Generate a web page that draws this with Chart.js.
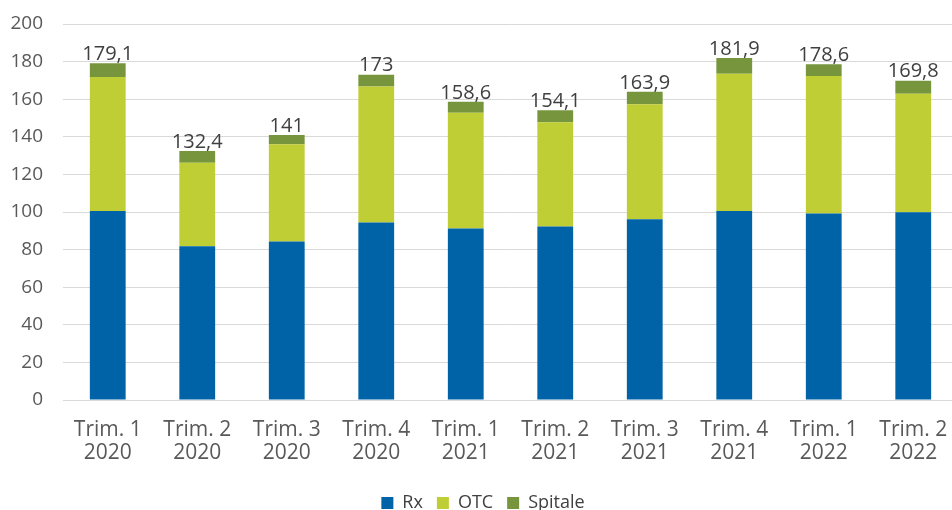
<!DOCTYPE html>
<html>
<head>
<meta charset="utf-8">
<script src="https://cdn.jsdelivr.net/npm/chart.js@4"></script>
<style>
  body { margin: 0; overflow: hidden; background: #fff; }
  #wrap { width: 960px; height: 510px; }
</style>
</head>
<body>
<div id="wrap"><canvas id="graph"></canvas></div>
<script>
var quarters = [
    ['Trim. 1', '2020'], ['Trim. 2', '2020'], ['Trim. 3', '2020'], ['Trim. 4', '2020'],
    ['Trim. 1', '2021'], ['Trim. 2', '2021'], ['Trim. 3', '2021'], ['Trim. 4', '2021'],
    ['Trim. 1', '2022'], ['Trim. 2', '2022']
];
var rx      = [100.5, 81.8, 84.3, 94.4, 91.2, 92.3, 96.2, 100.5, 99.2, 99.9];
var otc     = [71.3, 44.4, 51.8, 72.3, 61.6, 55.5, 61.1, 73.1, 73.2, 63.0];
var spitale = [7.3, 6.2, 4.9, 6.3, 5.8, 6.3, 6.6, 8.3, 6.2, 6.9];
var totals  = ['179,1', '132,4', '141', '173', '158,6', '154,1', '163,9', '181,9', '178,6', '169,8'];
var yTicks  = [0, 20, 40, 60, 80, 100, 120, 140, 160, 180, 200];

var font = '"Open Sans", "Noto Sans", sans-serif';

// total above each stack
var totalLabels = {
    id: 'totalLabels',
    afterDatasetsDraw: function (chart) {
        var ctx = chart.ctx;
        var meta = chart.getDatasetMeta(2);
        ctx.save();
        ctx.font = '20px ' + font;
        ctx.fillStyle = '#404040';
        ctx.textAlign = 'center';
        ctx.textBaseline = 'bottom';
        meta.data.forEach(function (bar, i) {
            ctx.fillText(totals[i], bar.x, bar.y + 1);
        });
        ctx.restore();
    }
};

var ctx = document.getElementById('graph');
var chart = new Chart(ctx, {
    type: 'bar',
    data: {
        labels: quarters,
        datasets: [
            { label: 'Rx', data: rx, backgroundColor: 'rgb(0,99,167)' },
            { label: 'OTC', data: otc, backgroundColor: 'rgb(191,206,52)' },
            { label: 'Spitale', data: spitale, backgroundColor: 'rgb(119,149,61)' }
        ]
    },
    options: {
        responsive: true,
        maintainAspectRatio: false,
        animation: false,
        layout: { padding: { left: 8, top: 24, right: 2, bottom: -12 } },
        datasets: { bar: { barPercentage: 0.4, categoryPercentage: 1 } },
        plugins: {
            tooltip: { enabled: false },
            legend: {
                position: 'bottom',
                labels: {
                    boxWidth: 12, boxHeight: 12, padding: 14,
                    color: '#404040',
                    font: { family: font, size: 18 }
                }
            }
        },
        scales: {
            x: {
                stacked: true,
                grid: { display: false },
                border: { color: '#d9d9d9', width: 1 },
                afterFit: function (axis) { axis.height = 80; },
                ticks: {
                    color: '#595959', padding: 10,
                    maxRotation: 0, autoSkip: false,
                    font: { family: font, size: 21, lineHeight: 1.1 }
                }
            },
            y: {
                stacked: true,
                min: 0, max: 200,
                afterBuildTicks: function (axis) {
                    axis.ticks = yTicks.map(function (v) { return { value: v }; });
                },
                afterFit: function (axis) {
                    axis.width = 55;
                    axis.paddingTop = 0;
                    axis.paddingBottom = 0;
                },
                grid: { color: '#d9d9d9', lineWidth: 1, drawTicks: false },
                border: { display: false },
                ticks: {
                    color: '#595959', padding: 20,
                    font: { family: font, size: 19 }
                }
            }
        }
    },
    plugins: [totalLabels]
});
</script>
</body>
</html>
